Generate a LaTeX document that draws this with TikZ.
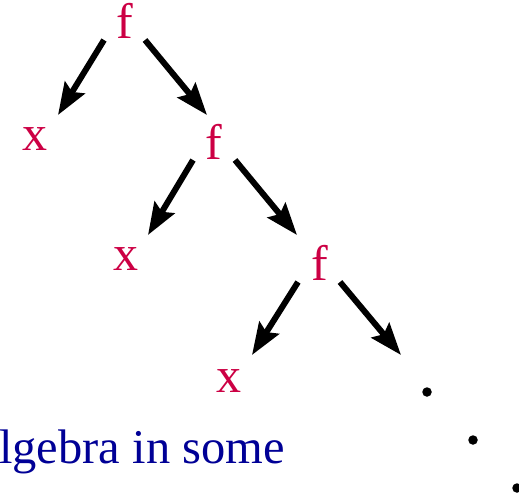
\documentclass[tikz,border=0pt]{standalone}
\usepackage{fontspec}
\setmainfont{Liberation Serif}
\usetikzlibrary{arrows.meta, calc}
\definecolor{TermRed}{RGB}{204, 0, 68}
\definecolor{TextBlue}{RGB}{0, 0, 150}
\tikzset{
  term/.style={anchor=base, inner sep=0pt, text=TermRed,
               font=\fontsize{50}{50}\selectfont},
  arr/.style={-{Stealth[length=32pt, width=23pt, inset=5pt]}, line width=6pt, color=#1},
  arr/.default=black,
  dotnode/.style={circle, fill=black, inner sep=0pt, minimum size=9.5pt},
}

\begin{document}
\begin{tikzpicture}[x=1pt, y=-1pt]
  \useasboundingbox (0,0) rectangle (519,493);

  % the spine of f's
  \node[term] (f1) at (125,38)  {f};
  \node[term] (f2) at (214,159) {f};
  \node[term] (f3) at (320,280) {f};

  % left leaves
  \node[term] (x1) at (34.5,150) {x};
  \node[term] (x2) at (125.5,270) {x};
  \node[term] (x3) at (229,392) {x};

  % the rest goes on
  \node[dotnode] (d1) at (427,392) {};
  \node[dotnode] (d2) at (473,440) {};
  \node[dotnode] (d3) at (517,488) {};
  \coordinate (more) at (401,355);

  \draw[arr] ($(f1.base)+(-21,2)$) -- ($(x1.base)+(23.5,-35)$);
  \draw[arr] ($(f1.base)+(20,2)$)  -- ($(f2.base)+(-7,-44)$);
  \draw[arr] ($(f2.base)+(-21,1)$) -- ($(x2.base)+(22.5,-35)$);
  \draw[arr] ($(f2.base)+(21,1)$)  -- ($(f3.base)+(-23,-45)$);
  \draw[arr] ($(f3.base)+(-22,2)$) -- ($(x3.base)+(23,-37)$);
  \draw[arr] ($(f3.base)+(20,2)$)  -- (more);

  \node[anchor=base west, inner sep=0pt, text=TextBlue,
        font=\fontsize{48.5}{48.5}\selectfont] (cap) at (-1,463) {lgebra in some};
\end{tikzpicture}
\end{document}
